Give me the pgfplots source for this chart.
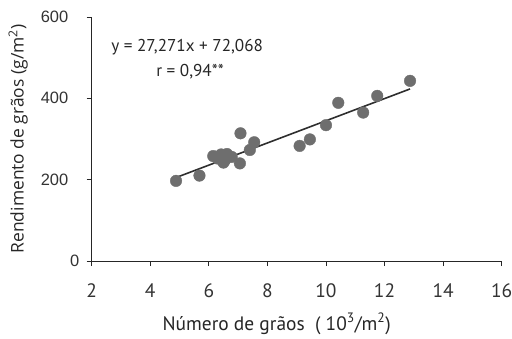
\documentclass[border=0pt]{standalone}
\usepackage{pgfplots}
\pgfplotsset{compat=1.18}
\usepackage{fontspec}
\setmainfont{PT Sans}
\newfontfamily\arialf{Liberation Sans}
\newfontfamily\opensans{Open Sans}
\definecolor{dotgray}{HTML}{6E6E6E}
\definecolor{linegray}{HTML}{2E2E2E}
\begin{document}
\begin{tikzpicture}
\begin{axis}[
  name=ax,
  scale only axis,
  width=410bp, height=244bp,
  xmin=2, xmax=16, ymin=0, ymax=600,
  axis x line=bottom, axis y line=left,
  axis line style={-, line width=0.9pt, color=black!85},
  xtick={2,4,...,16}, ytick={200,400,600},
  extra y ticks={0},
  extra y tick style={yticklabel style={xshift=11bp}},
  tick align=outside,
  major tick length=5bp,
  tick style={line width=0.9pt, color=black!85},
  /pgf/number format/assume math mode=true,
  xticklabel style={font=\fontsize{19.5}{19.5}\selectfont, color=black!80, yshift=-14bp},
  yticklabel style={font=\arialf\fontsize{16.5}{16.5}\selectfont, color=black!80, xshift=-15bp},
  xlabel={Número de grãos\ \ ( 10\textsuperscript{3}/m\textsuperscript{2})},
  xlabel style={font=\fontsize{19.5}{19.5}\selectfont, color=black!85, inner sep=0pt, yshift=-12bp, xshift=-20bp},
  ylabel={Rendimento de grãos (g/m\textsuperscript{2})},
  ylabel style={font=\opensans\fontsize{17.5}{17.5}\selectfont, color=black!85, yshift=-4bp},
  clip=false,
]
\addplot[only marks, mark=*, mark size=5.8bp, color=dotgray, mark options={fill=dotgray, draw=none}] coordinates {
 (4.88,197) (5.68,210) (6.15,258) (6.30,252) (6.42,262) (6.55,248)
 (6.62,263) (6.78,256) (6.50,242) (7.06,240) (7.08,314) (7.40,273)
 (7.55,292) (9.10,283) (9.45,299) (10.00,334) (10.42,389) (11.27,365)
 (11.75,406) (12.87,443)
};
\addplot[line width=1.6pt, color=linegray] coordinates {(4.84,204.1) (12.87,423.1)};
\node[font=\fontsize{17.2}{17.2}\selectfont, color=black!85] at (axis cs:5.26,526) {y = 27,271x + 72,068};
\node[font=\fontsize{17.2}{17.2}\selectfont, color=black!85] at (axis cs:5.36,465) {r = 0,94**};
\end{axis}
\pgfresetboundingbox
\path[use as bounding box] (-91.7bp,-78bp) rectangle (420.3bp,261bp);
\end{tikzpicture}
\end{document}
